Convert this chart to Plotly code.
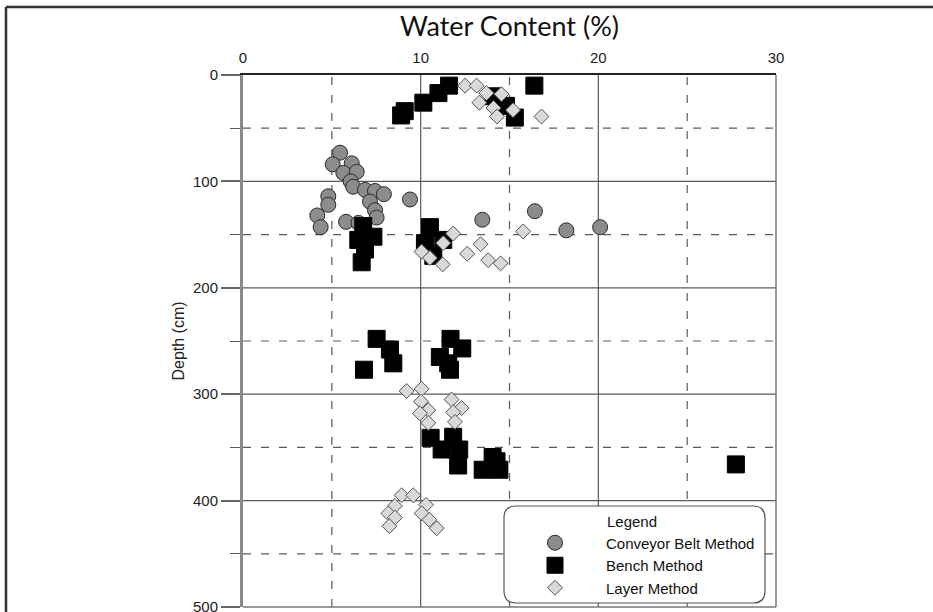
import plotly.graph_objects as go

# ---------------- data ----------------
conveyor_x = [5.46, 5.05, 6.12, 5.65, 6.4, 6.06, 6.2, 6.87, 7.43, 7.93, 9.4, 4.8, 4.8, 7.15,
              7.43, 7.52, 4.18, 4.37, 5.8, 6.5, 13.47, 16.43, 18.2, 20.1]
conveyor_y = [73, 84, 83, 92, 91, 100, 105, 108, 109, 112, 117, 114, 122, 119,
              127, 134, 132, 143, 138, 139, 136, 128, 146, 143]

bench_x = [8.9, 9.1, 10.15, 11.0, 11.6, 16.4, 14.1, 14.8, 15.3,
           6.77, 7.34, 6.49, 6.87, 6.68, 10.52, 10.24, 11.27, 10.71,
           7.52, 8.27, 8.46, 6.81, 11.68, 12.34, 11.08, 11.55, 11.65,
           10.56, 11.18, 11.83, 12.17, 12.11, 14.05, 14.27, 13.49, 14.43, 27.74]
bench_y = [38, 34, 26, 17, 10, 10, 20, 29, 40,
           142, 152, 155, 164, 176, 143, 158, 155, 170,
           248, 258, 271, 277, 248, 257, 265, 271, 277,
           341, 352, 340, 352, 367, 359, 363, 371, 371, 366]

layer_x = [12.5, 13.15, 13.7, 14.55, 13.3, 14.1, 15.2, 14.3, 16.8,
           11.83, 11.27, 10.05, 10.52, 11.24, 12.62, 13.37, 13.8, 14.5, 15.77,
           9.21, 10.05, 10.02, 10.43, 9.96, 10.43, 11.74, 12.3, 11.83, 11.93,
           8.93, 9.58, 8.55, 8.18, 8.55, 8.24, 10.3, 10.06, 10.49, 10.9]
layer_y = [10, 10, 17, 18, 26, 31, 33, 39, 39,
           149, 158, 166, 172, 178, 168, 159, 174, 177, 147,
           297, 295, 307, 315, 318, 327, 305, 313, 317, 326,
           395, 395, 405, 412, 416, 424, 404, 412, 418, 426]

series_names = ["Conveyor Belt Method", "Bench Method", "Layer Method"]
x_title = "Water Content (%)"
y_title = "Depth (cm)"
x_major_grid = [10, 20]
x_minor_grid = [5, 15, 25]
y_major_grid = [100, 200, 300, 400]
y_minor_grid = [50, 150, 250, 350, 450]

# ---------------- layout geometry ----------------
W, H = 933, 612
L, R, T, B = 243, 933 - 776, 75, 612 - 607
PW, PH = W - L - R, H - T - B


def px2paper(px, py):
    return (px - L) / PW, 1 - (py - T) / PH


fig = go.Figure()
fig.add_trace(go.Scatter(x=conveyor_x, y=conveyor_y, mode="markers", name=series_names[0],
                         marker=dict(symbol="circle", size=15, color="#8c8c8c",
                                     line=dict(color="#2a2a2a", width=1))))
fig.add_trace(go.Scatter(x=bench_x, y=bench_y, mode="markers", name=series_names[1],
                         marker=dict(symbol="square", size=17, color="#000000",
                                     line=dict(color="#000000", width=1))))
fig.add_trace(go.Scatter(x=layer_x, y=layer_y, mode="markers", name=series_names[2],
                         marker=dict(symbol="diamond", size=11.5, color="#d9d9d9",
                                     line=dict(color="#555555", width=1))))

grid_col = "#5a5a5a"
dash_pat = "8px,10px"
fig.update_xaxes(range=[0, 30], side="top", tick0=0, dtick=10,
                 showgrid=False, zeroline=False, automargin=False,
                 showline=True, linecolor="#222222", linewidth=1.5,
                 ticks="outside", ticklen=4, tickcolor="rgba(0,0,0,0)",
                 ticklabeloverflow="allow",
                 tickfont=dict(family="Arial", size=15, color="#222222"),
                 title=dict(text=x_title, font=dict(family="Lato", size=27, color="#111111"),
                            standoff=5))
fig.update_yaxes(range=[500, 0], tick0=0, dtick=100,
                 showgrid=False, zeroline=False, automargin=False,
                 minor=dict(dtick=50, tick0=0, showgrid=False,
                            ticks="outside", ticklen=10, tickcolor=grid_col, tickwidth=1),
                 showline=True, linecolor="#8a8a8a", linewidth=3,
                 ticks="outside", ticklen=19, tickcolor="#666666", tickwidth=1.5,
                 ticklabeloverflow="allow",
                 tickfont=dict(family="Arial", size=15, color="#222222"),
                 title=dict(text=y_title, font=dict(family="Arial", size=16, color="#222222"),
                            standoff=5))

shapes = []
for v in x_major_grid:
    shapes.append(dict(type="line", xref="x", yref="paper", x0=v, x1=v, y0=0, y1=1,
                       layer="below", line=dict(color=grid_col, width=1.2)))
for v in x_minor_grid:
    shapes.append(dict(type="line", xref="x", yref="paper", x0=v, x1=v, y0=0, y1=1,
                       layer="below", line=dict(color=grid_col, width=1.2, dash=dash_pat)))
for v in y_major_grid:
    shapes.append(dict(type="line", xref="paper", yref="y", x0=0, x1=1, y0=v, y1=v,
                       layer="below", line=dict(color=grid_col, width=1.2)))
for v in y_minor_grid:
    shapes.append(dict(type="line", xref="paper", yref="y", x0=0, x1=1, y0=v, y1=v,
                       layer="below", line=dict(color=grid_col, width=1.2, dash=dash_pat)))

# right and bottom plot borders
shapes.append(dict(type="line", xref="paper", yref="paper", x0=1, x1=1, y0=0, y1=1,
                   line=dict(color="#777777", width=1.5)))
shapes.append(dict(type="line", xref="paper", yref="paper", x0=0, x1=1, y0=0, y1=0,
                   line=dict(color="#777777", width=1.5)))
# outer frame (left and top edges visible)
fx0, fy0 = px2paper(6, 7)
fx1, fy1 = px2paper(960, 640)
shapes.append(dict(type="line", xref="paper", yref="paper", x0=fx0, x1=fx0, y0=fy0, y1=fy1,
                   line=dict(color="#333333", width=2.5)))
shapes.append(dict(type="line", xref="paper", yref="paper", x0=fx0, x1=fx1, y0=fy0, y1=fy0,
                   line=dict(color="#333333", width=2.5)))
# rounded legend box
bl, bt, br, bb, rad = 504, 506, 765, 603, 12


def P(px, py):
    a, b = px2paper(px, py)
    return f"{a:.5f},{b:.5f}"


path = (f"M {P(bl + rad, bt)} L {P(br - rad, bt)} Q {P(br, bt)} {P(br, bt + rad)} "
        f"L {P(br, bb - rad)} Q {P(br, bb)} {P(br - rad, bb)} "
        f"L {P(bl + rad, bb)} Q {P(bl, bb)} {P(bl, bb - rad)} "
        f"L {P(bl, bt + rad)} Q {P(bl, bt)} {P(bl + rad, bt)} Z")
shapes.append(dict(type="path", xref="paper", yref="paper", path=path,
                   fillcolor="white", line=dict(color="#555555", width=1.2), layer="above"))

lx, ly = px2paper(504, 507)
fig.update_layout(
    width=W, height=H,
    margin=dict(l=L, r=R, t=T, b=B, pad=0, autoexpand=False),
    paper_bgcolor="white", plot_bgcolor="white",
    shapes=shapes,
    legend=dict(x=lx, y=ly, xanchor="left", yanchor="top",
                bgcolor="rgba(0,0,0,0)", borderwidth=0,
                font=dict(family="Arial", size=15, color="#111111"),
                title=dict(text="Legend", side="top center",
                           font=dict(family="Arial", size=15, color="#111111")),
                itemwidth=92, tracegroupgap=0),
    showlegend=True,
)

fig.write_html("out.html")
